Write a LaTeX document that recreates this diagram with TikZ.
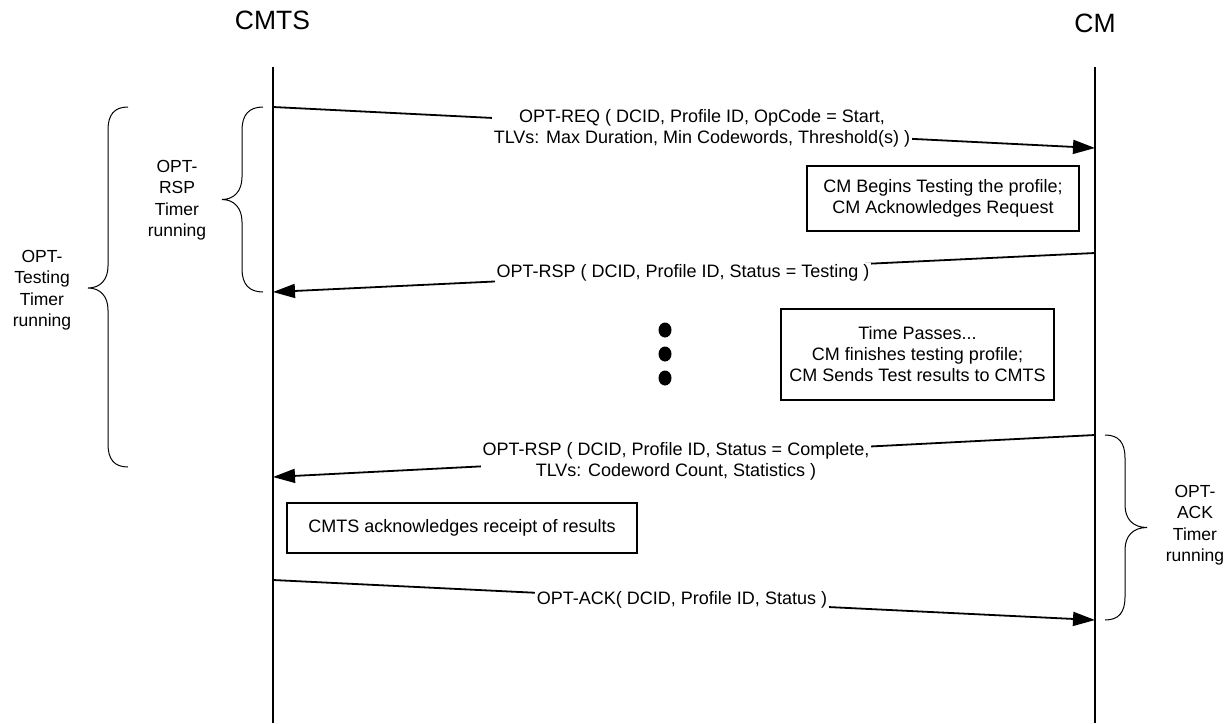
\documentclass[tikz,border=0pt]{standalone}
\usepackage{fontspec}
\setmainfont{Liberation Sans}
\usetikzlibrary{arrows.meta}
\begin{document}
\begin{tikzpicture}[x=1pt,y=-1pt,
  life/.style={line width=1.4pt},
  msg/.style={line width=1.8pt,-{Triangle[length=22pt,width=14pt]}},
  lbl/.style={fill=white,inner sep=2pt,align=center,font=\fontsize{18}{21}\selectfont},
  note/.style={draw,line width=1.8pt,align=center,font=\fontsize{18}{21}\selectfont,inner sep=0pt},
  brc/.style={line width=1pt},
  blbl/.style={align=center,font=\fontsize{17.5}{21.5}\selectfont},
  ttl/.style={font=\fontsize{26.5}{30}\selectfont}]
\useasboundingbox (0,0) rectangle (1231,723);
% titles and lifelines
\node[ttl] (cmts) at (272.5,20) {CMTS};
\node[ttl] (cm) at (1095,23) {CM};
\coordinate (cmtsTop) at (273,67);
\coordinate (cmtsBot) at (273,723);
\coordinate (cmTop) at (1095,67);
\coordinate (cmBot) at (1095,723);
\draw[life] (cmtsTop) -- (cmtsBot);
\draw[life] (cmTop) -- (cmBot);
% message end points
\coordinate (m1s) at (273,107);  \coordinate (m1e) at (1095,148);
\coordinate (m2s) at (1095,253); \coordinate (m2e) at (273,292);
\coordinate (m3s) at (1095,435); \coordinate (m3e) at (273,477);
\coordinate (m4s) at (273,580);  \coordinate (m4e) at (1095,620);
\draw[msg] (m1s) -- (m1e);
\draw[msg] (m2s) -- (m2e);
\draw[msg] (m3s) -- (m3e);
\draw[msg] (m4s) -- (m4e);
% message labels
\node[lbl] (l1) at (702,128) {OPT-REQ ( DCID, Profile ID, OpCode = Start,\\TLVs: Max Duration, Min Codewords, Threshold(s) )};
\node[lbl] (l2) at (683,273) {OPT-RSP ( DCID, Profile ID, Status = Testing )};
\node[lbl] (l3) at (676,461) {OPT-RSP ( DCID, Profile ID, Status = Complete,\\TLVs: Codeword Count, Statistics )};
\node[lbl] (l4) at (682,600) {OPT-ACK( DCID, Profile ID, Status )};
% notes
\node[note,minimum width=272pt,minimum height=65pt] (n1) at (943,198.5) {CM Begins Testing the profile;\\CM Acknowledges Request};
\node[note,minimum width=273pt,minimum height=91pt] (n2) at (917.5,354.5) {Time Passes...\\CM finishes testing profile;\\CM Sends Test results to CMTS};
\node[note,minimum width=350pt,minimum height=50pt] (n3) at (462,528) {CMTS acknowledges receipt of results};
% dots
\fill (665,330) ellipse [x radius=6.5, y radius=7.5];
\fill (665,354) ellipse [x radius=6.5, y radius=7.5];
\fill (665,378) ellipse [x radius=6.5, y radius=7.5];
% braces
\draw[brc] (128,107) .. controls (114,107) and (108,115) .. (108,130) -- (108,266)
  .. controls (108,280) and (100,288) .. (88,288)
  .. controls (100,288) and (108,296) .. (108,310) -- (108,444)
  .. controls (108,459) and (114,467) .. (128,467);
\draw[brc] (263,107) .. controls (249,107) and (242,115) .. (242,130) -- (242,177)
  .. controls (242,191) and (234,199.5) .. (222,199.5)
  .. controls (234,199.5) and (242,208) .. (242,222) -- (242,269)
  .. controls (242,284) and (249,292) .. (263,292);
\draw[brc] (1105,435) .. controls (1119,435) and (1125,443) .. (1125,458) -- (1125,505)
  .. controls (1125,519) and (1133,527.5) .. (1147,527.5)
  .. controls (1133,527.5) and (1125,536) .. (1125,550) -- (1125,597)
  .. controls (1125,612) and (1119,620) .. (1105,620);
\node[blbl] (b1) at (42,290) {OPT-\\Testing\\Timer\\running};
\node[blbl] (b2) at (177,200) {OPT-\\RSP\\Timer\\running};
\node[blbl] (b3) at (1195,525) {OPT-\\ACK\\Timer\\running};
\end{tikzpicture}
\end{document}
